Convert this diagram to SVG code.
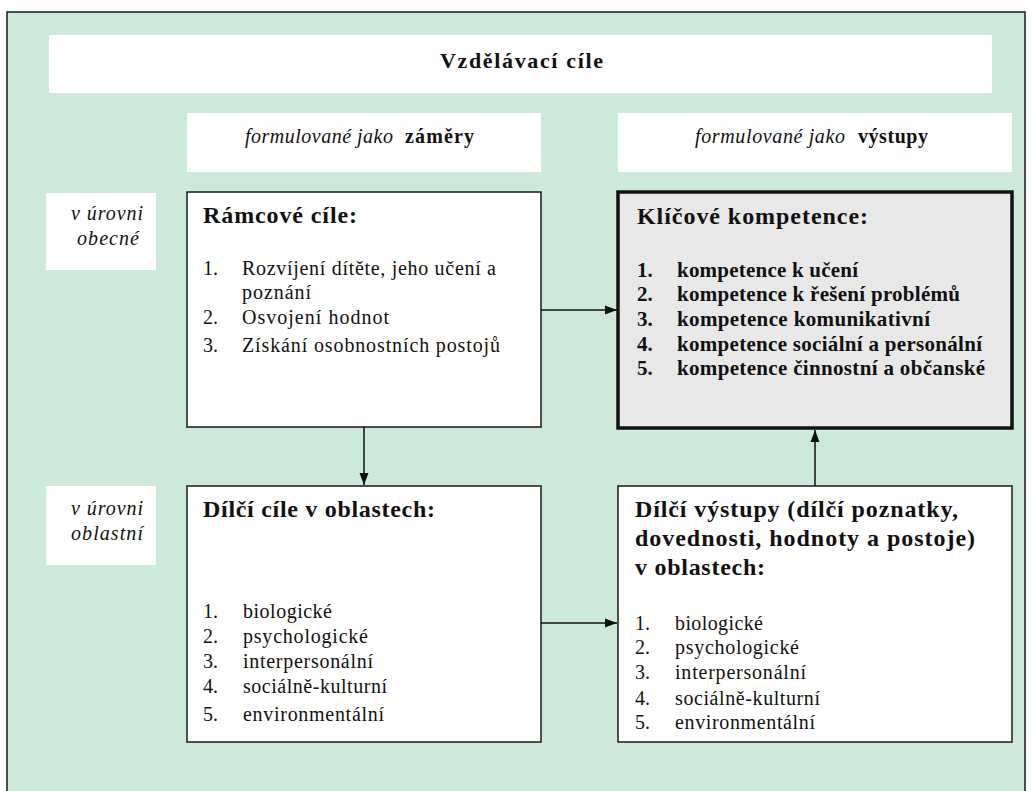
<svg xmlns="http://www.w3.org/2000/svg" width="1035" height="791" viewBox="0 0 1035 791">
<style>
.bg{fill:#cde9da;stroke:#1a1a1a;stroke-width:1.5}
.wb{fill:#ffffff}
.box{fill:#ffffff;stroke:#1a1a1a;stroke-width:1.5}
.kbox{fill:#e8e8e8;stroke:#111111;stroke-width:3.5}
text{font-family:"Liberation Serif","Times New Roman",serif;fill:#111111}
.t{font-size:24px;font-weight:bold}
.top{font-size:22px;font-weight:bold}
.it{font-size:20px;font-style:italic}
.sb{font-size:20px;font-weight:bold}
.lab{font-size:20px;font-style:italic}
.r{font-size:20px}
.b{font-size:21px;font-weight:bold}
.con{stroke:#111111;stroke-width:1.5;fill:none}
</style>
<defs>
<marker id="ah" markerWidth="12" markerHeight="10" refX="12" refY="5" orient="auto" markerUnits="userSpaceOnUse">
<path d="M0,0.5 L12,5 L0,9.5 z" fill="#111111"/>
</marker>
</defs>
<rect class="bg" x="7" y="12" width="1018" height="800"/>

<g id="title">
<rect class="wb" x="49" y="35" width="943" height="58"/>
<text class="top" x="440" y="68" textLength="163" lengthAdjust="spacing">Vzdělávací cíle</text>
</g>

<g id="hdr-zamery">
<rect class="wb" x="187" y="113" width="354" height="59"/>
<text class="it" x="245" y="143" textLength="148" lengthAdjust="spacing">formulované jako</text>
<text class="sb" x="405" y="143" textLength="69" lengthAdjust="spacing">záměry</text>
</g>

<g id="hdr-vystupy">
<rect class="wb" x="618" y="113" width="394" height="59"/>
<text class="it" x="695" y="143" textLength="150" lengthAdjust="spacing">formulované jako</text>
<text class="sb" x="858" y="143" textLength="70" lengthAdjust="spacing">výstupy</text>
</g>

<g id="lab-obecne">
<rect class="wb" x="46" y="193" width="110" height="77"/>
<text class="lab" x="71" y="220" textLength="72" lengthAdjust="spacing">v úrovni</text>
<text class="lab" x="77" y="245" textLength="62" lengthAdjust="spacing">obecné</text>
</g>

<g id="lab-oblastni">
<rect class="wb" x="46" y="486" width="110" height="79"/>
<text class="lab" x="71" y="515" textLength="72" lengthAdjust="spacing">v úrovni</text>
<text class="lab" x="71" y="540" textLength="72" lengthAdjust="spacing">oblastní</text>
</g>

<g id="ramcove">
<rect class="box" x="187" y="192" width="354" height="235"/>
<text class="t" x="203" y="223" textLength="154" lengthAdjust="spacing">Rámcové cíle:</text>
<text class="r" x="203" y="275">1.</text>
<text class="r" x="242" y="275" textLength="254" lengthAdjust="spacing">Rozvíjení dítěte, jeho učení a</text>
<text class="r" x="242" y="299" textLength="69" lengthAdjust="spacing">poznání</text>
<text class="r" x="203" y="324">2.</text>
<text class="r" x="242" y="324" textLength="147" lengthAdjust="spacing">Osvojení hodnot</text>
<text class="r" x="203" y="352">3.</text>
<text class="r" x="242" y="352" textLength="258" lengthAdjust="spacing">Získání osobnostních postojů</text>
</g>

<g id="klicove">
<rect class="kbox" x="618" y="192" width="394" height="236"/>
<text class="t" x="637" y="224" textLength="231" lengthAdjust="spacing">Klíčové kompetence:</text>
<text class="b" x="637" y="277">1.</text>
<text class="b" x="677" y="277" textLength="181" lengthAdjust="spacing">kompetence k učení</text>
<text class="b" x="637" y="301">2.</text>
<text class="b" x="677" y="301" textLength="283" lengthAdjust="spacing">kompetence k řešení problémů</text>
<text class="b" x="637" y="326">3.</text>
<text class="b" x="677" y="326" textLength="253" lengthAdjust="spacing">kompetence komunikativní</text>
<text class="b" x="637" y="351">4.</text>
<text class="b" x="677" y="351" textLength="305" lengthAdjust="spacing">kompetence sociální a personální</text>
<text class="b" x="637" y="375">5.</text>
<text class="b" x="677" y="375" textLength="308" lengthAdjust="spacing">kompetence činnostní a občanské</text>
</g>

<g id="dilci-cile">
<rect class="box" x="187" y="486" width="354" height="256"/>
<text class="t" x="203" y="517" textLength="232" lengthAdjust="spacing">Dílčí cíle v oblastech:</text>
<text class="r" x="203" y="618">1.</text>
<text class="r" x="243" y="618" textLength="89" lengthAdjust="spacing">biologické</text>
<text class="r" x="203" y="643">2.</text>
<text class="r" x="243" y="643" textLength="125" lengthAdjust="spacing">psychologické</text>
<text class="r" x="203" y="668">3.</text>
<text class="r" x="243" y="668" textLength="130" lengthAdjust="spacing">interpersonální</text>
<text class="r" x="203" y="693">4.</text>
<text class="r" x="243" y="693" textLength="144" lengthAdjust="spacing">sociálně-kulturní</text>
<text class="r" x="203" y="721">5.</text>
<text class="r" x="243" y="721" textLength="141" lengthAdjust="spacing">environmentální</text>
</g>

<g id="dilci-vystupy">
<rect class="box" x="618" y="486" width="394" height="256"/>
<text class="t" x="635" y="517" textLength="323" lengthAdjust="spacing">Dílčí výstupy (dílčí poznatky,</text>
<text class="t" x="635" y="546" textLength="340" lengthAdjust="spacing">dovednosti, hodnoty a postoje)</text>
<text class="t" x="635" y="575" textLength="130" lengthAdjust="spacing">v oblastech:</text>
<text class="r" x="635" y="630">1.</text>
<text class="r" x="675" y="630" textLength="88" lengthAdjust="spacing">biologické</text>
<text class="r" x="635" y="654">2.</text>
<text class="r" x="675" y="654" textLength="124" lengthAdjust="spacing">psychologické</text>
<text class="r" x="635" y="679">3.</text>
<text class="r" x="675" y="679" textLength="131" lengthAdjust="spacing">interpersonální</text>
<text class="r" x="635" y="705">4.</text>
<text class="r" x="675" y="705" textLength="145" lengthAdjust="spacing">sociálně-kulturní</text>
<text class="r" x="635" y="729">5.</text>
<text class="r" x="675" y="729" textLength="140" lengthAdjust="spacing">environmentální</text>
</g>

<g id="connectors">
<line class="con" x1="541" y1="310" x2="617" y2="310" marker-end="url(#ah)"/>
<line class="con" x1="364" y1="427" x2="364" y2="485" marker-end="url(#ah)"/>
<line class="con" x1="541" y1="623" x2="617" y2="623" marker-end="url(#ah)"/>
<line class="con" x1="815" y1="486" x2="815" y2="430" marker-end="url(#ah)"/>
</g>
</svg>
